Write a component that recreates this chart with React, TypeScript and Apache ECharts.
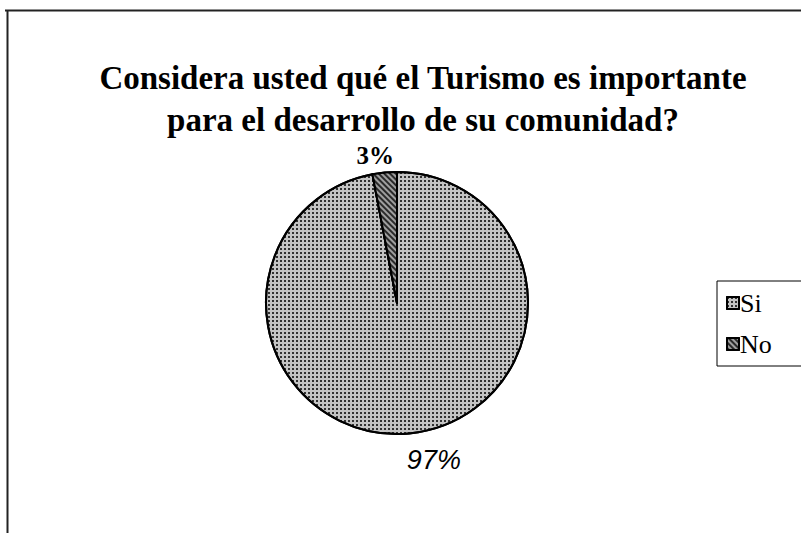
import React, { useEffect, useRef } from "react";
import * as echarts from "echarts";

const categories = ["Si", "No"];
const values = [97, 3];
const titleLines = [
  "Considera usted qué el Turismo es importante",
  "para el desarrollo de su comunidad?",
];

export default function App() {
  const ref = useRef<HTMLDivElement>(null);
  useEffect(() => {
    document.body.style.margin = "0";
    const chart = echarts.init(ref.current!, null, { renderer: "svg" });
    const siStyle = {
      color: "#c4c4c4",
      borderColor: "#000",
      borderWidth: 2,
      decal: {
        symbol: "rect",
        symbolSize: 1,
        dashArrayX: [1.3, 1.7],
        dashArrayY: [1.3, 1.7],
        color: "rgba(0,0,0,0.75)",
      },
    };
    const noStyle = {
      color: "#2a2a2a",
      borderColor: "#000",
      borderWidth: 2,
      decal: {
        symbol: "rect",
        symbolSize: 1,
        rotation: Math.PI / 4,
        dashArrayX: [1, 0],
        dashArrayY: [1.5, 1.5],
        color: "rgba(255,255,255,0.55)",
      },
    };
    chart.setOption({
      animation: false,
      backgroundColor: "#fff",
      title: {
        text: titleLines.join("\n"),
        left: 418,
        textAlign: "center",
        top: 52,
        textStyle: {
          fontFamily: "Liberation Serif",
          fontWeight: "bold",
          fontSize: 33,
          lineHeight: 42,
          color: "#000",
        },
      },
      legend: {
        orient: "vertical",
        left: 717,
        top: 281,
        data: categories,
        icon: "rect",
        itemWidth: 12,
        itemHeight: 12,
        itemGap: 15,
        padding: [9, 80, 9, 9],
        borderColor: "#000",
        borderWidth: 1,
        textStyle: {
          fontFamily: "Liberation Serif",
          fontSize: 26,
          color: "#000",
          padding: [0, 0, 0, -4],
        },
      },
      graphic: [
        {
          type: "line",
          shape: { x1: 5, y1: 10.5, x2: 801, y2: 10.5 },
          style: { stroke: "#222", lineWidth: 2 },
        },
        {
          type: "line",
          shape: { x1: 7.5, y1: 10, x2: 7.5, y2: 533 },
          style: { stroke: "#222", lineWidth: 2 },
        },
      ],
      series: [
        {
          type: "pie",
          center: [397, 303],
          radius: 131,
          startAngle: 90,
          clockwise: true,
          label: {
            show: true,
            position: "outside",
            formatter: "{c}%",
            color: "#000",
          },
          labelLine: { show: false, length: 18, length2: 0 },
          data: categories.map((name, i) => ({
            name,
            value: values[i],
            itemStyle: i === 0 ? siStyle : noStyle,
            labelLine: { show: false, length: i === 0 ? 27 : 17, length2: 0 },
            label:
              i === 0
                ? {
                    fontFamily: "Liberation Sans",
                    fontStyle: "italic",
                    fontSize: 27,
                    padding: [0, 0, 0, -10],
                  }
                : {
                    fontFamily: "Liberation Serif",
                    fontWeight: "bold",
                    fontSize: 25,
                    padding: [0, -16, 0, 0],
                  },
          })),
        },
      ],
    });
    return () => chart.dispose();
  }, []);
  return (
    <div
      ref={ref}
      style={{ position: "absolute", left: 0, top: 0, width: 801, height: 533 }}
    />
  );
}
